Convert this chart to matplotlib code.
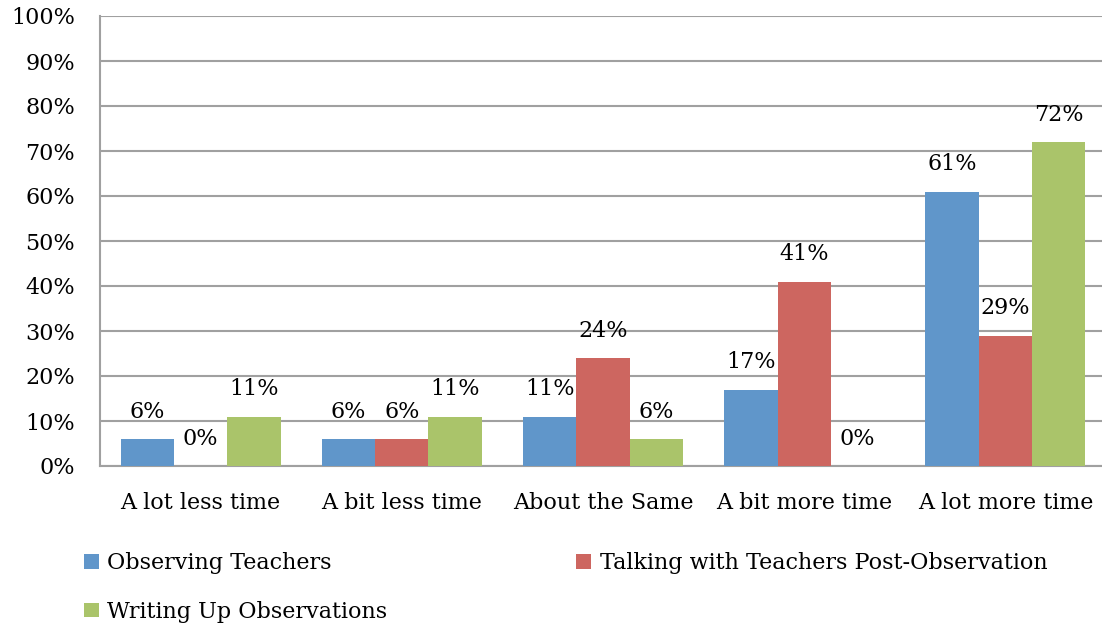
import numpy as np
import matplotlib
matplotlib.use("Agg")
import matplotlib.pyplot as plt
from matplotlib.ticker import PercentFormatter

# categories and series values (percent)
categories = ["A lot less time", "A bit less time", "About the Same",
              "A bit more time", "A lot more time"]
observing = [6, 6, 11, 17, 61]
talking = [0, 6, 24, 41, 29]
writing = [11, 11, 6, 0, 72]
series_names = ["Observing Teachers",
                "Talking with Teachers Post-Observation",
                "Writing Up Observations"]
colors = ["#6096CA", "#CD6660", "#AAC46A"]

plt.rcParams["font.family"] = ["DejaVu Serif"]
plt.rcParams["font.size"] = 16

fig = plt.figure(figsize=(11.02, 6.30), dpi=100)
ax = fig.add_axes([100 / 1102, 164 / 630, 1006 / 1102, 450 / 630])

x = np.arange(len(categories))
w = 0.265
bars = []
for i, (vals, name, c) in enumerate(zip([observing, talking, writing], series_names, colors)):
    b = ax.bar(x + (i - 1) * w, vals, w, color=c, label=name, zorder=3)
    bars.append(b)
    for xi, v in zip(x + (i - 1) * w, vals):
        ax.annotate(f"{v}%", (xi, v), xytext=(0, 19.5), textcoords="offset points",
                    ha="center", va="center")

ax.set_xlim(-0.5, len(categories) - 0.5)
ax.set_ylim(0, 100)
ax.set_yticks(range(0, 101, 10))
ax.yaxis.set_major_formatter(PercentFormatter(decimals=0))
ax.set_xticks(x)
ax.set_xticklabels(categories)
ax.tick_params(axis="y", length=0, pad=18)
ax.tick_params(axis="x", length=0, pad=19)
ax.grid(axis="y", color="#A0A0A0", linewidth=1.5, zorder=0)
for s in ["top", "right"]:
    ax.spines[s].set_visible(False)
for s in ["left", "bottom"]:
    ax.spines[s].set_color("#A0A0A0")
    ax.spines[s].set_linewidth(1.5)

handles = [bars[0], bars[2], bars[1]]
labels = [series_names[0], series_names[2], series_names[1]]
fig.legend(handles, labels, ncol=2, loc="upper left",
           bbox_to_anchor=(73 / 1102, 1 - 541 / 630), frameon=False,
           handlelength=0.65, handleheight=0.65, handletextpad=0.4,
           labelspacing=1.2, columnspacing=8.5, borderpad=0)

fig.savefig("out.png", dpi=100)
